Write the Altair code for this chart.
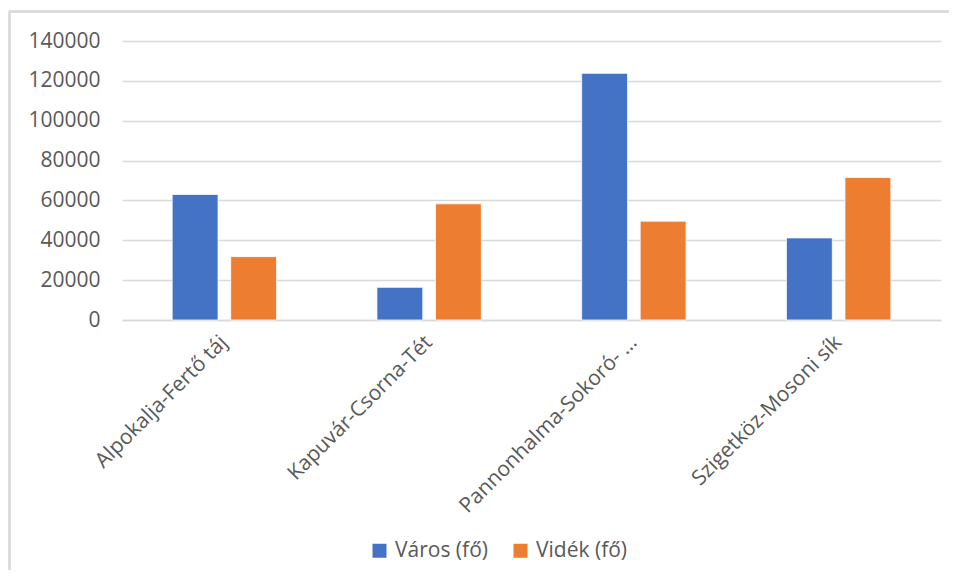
import altair as alt
import pandas as pd

categories = ["Alpokalja-Fertő táj", "Kapuvár-Csorna-Tét", "Pannonhalma-Sokoró- …", "Szigetköz-Mosoni sík"]
series = ["Város (fő)", "Vidék (fő)"]
varos = [63000, 16400, 123800, 41200]
videk = [31800, 58300, 49600, 71500]
y_ticks = [0, 20000, 40000, 60000, 80000, 100000, 120000, 140000]

rows = []
for c, v1, v2 in zip(categories, varos, videk):
    rows.append({"kat": c, "sor": series[0], "ertek": v1})
    rows.append({"kat": c, "sor": series[1], "ertek": v2})
df = pd.DataFrame(rows)

FONT = "Open Sans"
GRID = "#D9D9D9"
TXT = "#595959"

bars = alt.Chart(df).mark_bar(stroke="white", strokeWidth=0.8).encode(
    x=alt.X("kat:N", sort=categories, title=None,
            scale=alt.Scale(paddingInner=0.49, paddingOuter=0.245),
            axis=alt.Axis(labelAngle=-45, labelAlign="right", labelBaseline="middle",
                          labelPadding=19, ticks=False, domainColor=GRID, domainWidth=1.3,
                          labelFont=FONT, labelFontSize=21, labelColor=TXT, labelLimit=400,
                          grid=False)),
    xOffset=alt.XOffset("sor:N", sort=series, scale=alt.Scale(paddingInner=0.216, paddingOuter=0)),
    y=alt.Y("ertek:Q", title=None,
            scale=alt.Scale(domain=[0, 140000], nice=False),
            axis=alt.Axis(values=y_ticks, format="d", domain=False, ticks=False,
                          labelPadding=22, labelFont=FONT, labelFontSize=21, labelColor=TXT,
                          gridColor=GRID, gridWidth=1.3)),
    color=alt.Color("sor:N", sort=series, title=None,
                    scale=alt.Scale(domain=series, range=["#4472C4", "#ED7D31"]),
                    legend=alt.Legend(orient="none", legendX=247, legendY=499, direction="horizontal",
                                      symbolType="square", symbolSize=196, symbolStrokeWidth=0,
                                      labelFont=FONT, labelFontSize=21, labelColor=TXT,
                                      labelOffset=5, columnPadding=22)),
)

border_left = alt.Chart(df).mark_rule(color=GRID, strokeWidth=1.5).encode(
    x=alt.value(-112.5), y=alt.value(-29.5), y2=alt.value(600)
)
border_top = alt.Chart(df).mark_rule(color=GRID, strokeWidth=1.5).encode(
    x=alt.value(-112.5), x2=alt.value(900), y=alt.value(-29.5)
)

chart = alt.layer(border_left, border_top, bars).properties(
    width=819, height=279,
    padding={"left": 114, "top": 33, "right": 8, "bottom": 250},
    autosize=alt.AutoSizeParams(type="none"),
).configure_view(stroke=None)

chart.save("out.html", embed_options={"renderer": "svg", "actions": False})
